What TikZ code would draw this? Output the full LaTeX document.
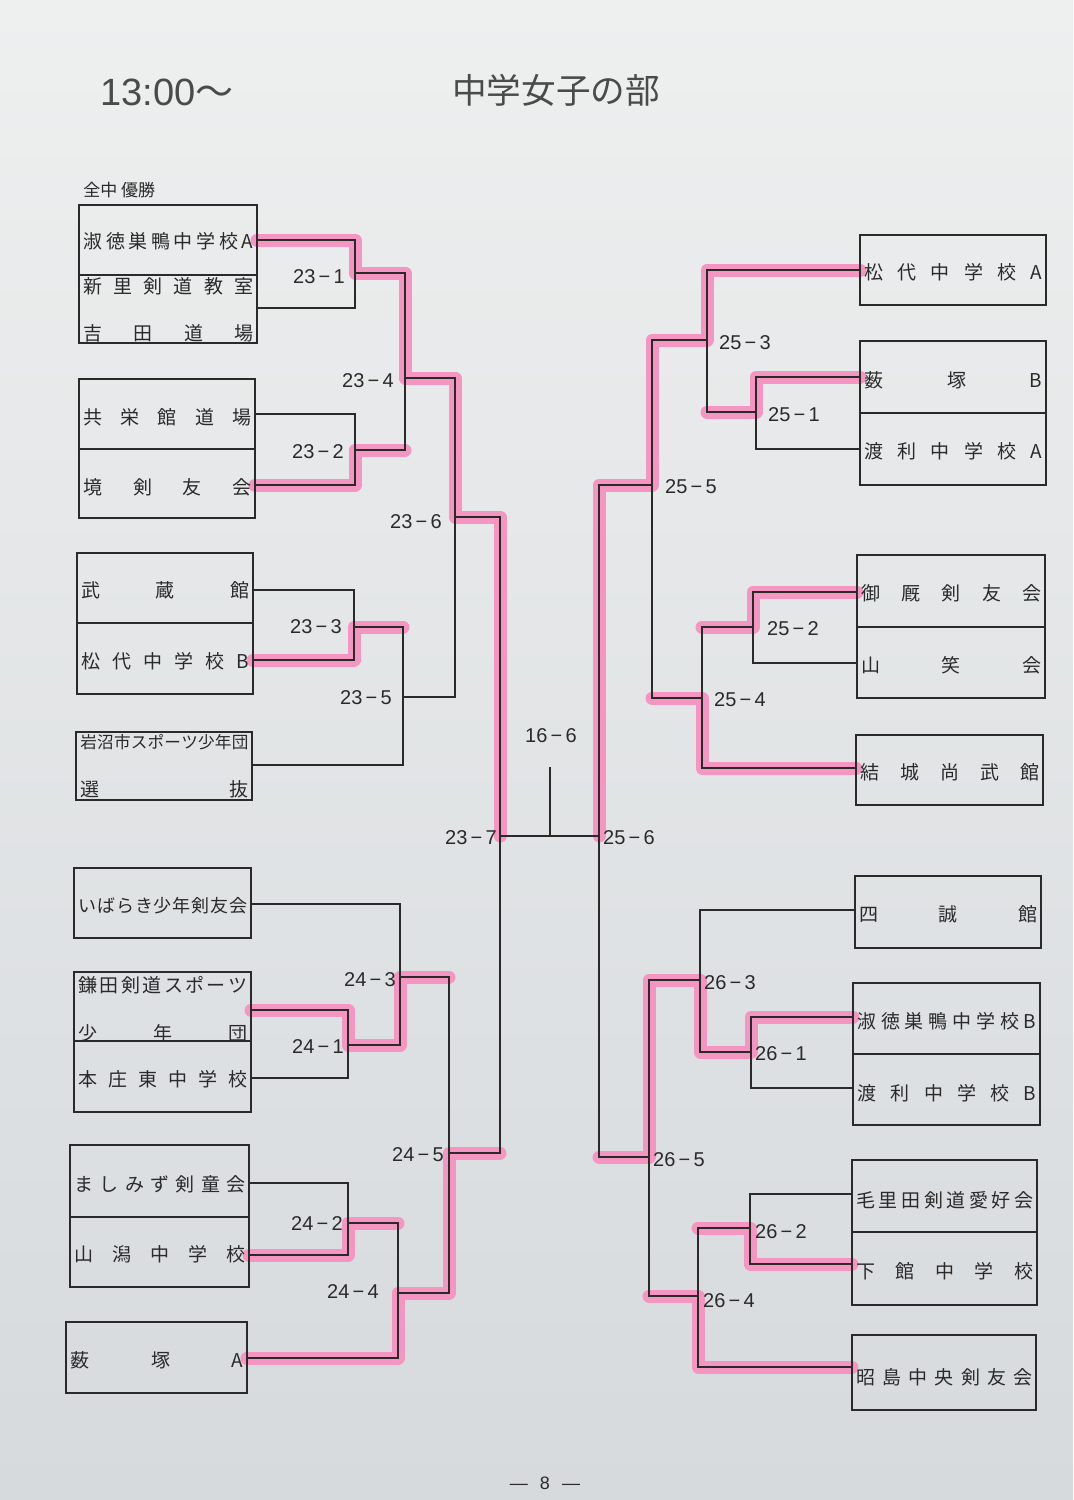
\documentclass[tikz,border=0pt]{standalone}
\usepackage{fontspec}
\setmainfont{Liberation Sans}
\newfontfamily\jp{Noto Sans CJK JP}
\usepackage{tikz}
\usetikzlibrary{calc}

\definecolor{paper}{RGB}{238,239,239}
\definecolor{papershade}{RGB}{214,218,221}
\definecolor{ink}{RGB}{42,42,42}
\definecolor{marker}{RGB}{245,150,194}

% spread the letters of a name over the whole width of its box
\makeatletter
\newcommand\spread[2]{\hbox to #1{\edef\sp@list{#2}\let\sp@sep\relax
  \expandafter\@tfor\expandafter\sp@c\expandafter:\expandafter=\sp@list\do{\sp@sep\sp@c\let\sp@sep\hfil}}}
\makeatother

\begin{document}
\begin{tikzpicture}[x=0.5pt,y=-0.5pt,
  box/.style={draw=ink,line width=1.2pt},
  wire/.style={draw=ink,line width=0.8pt},
  win/.style={draw=marker,line width=6.5pt,line cap=round,line join=round},
  team/.style={anchor=west,inner sep=0pt,text=ink,font=\jp\fontsize{9.5}{11}\selectfont},
  mnum/.style={inner sep=0pt,text=ink,font=\fontsize{10}{12}\selectfont}]
\useasboundingbox (0,0) rectangle (1073,1500);
\shade[top color=paper,bottom color=papershade] (0,0) rectangle (1073,1500);

% Title
\node[text=ink!85,font=\fontsize{19}{22}\selectfont] (time) at (167,92) {13:00{\jp～}};
\node[text=ink!85,font=\jp\fontsize{17.3}{20}\selectfont] (title) at (556,90) {中学女子の部};
\node[team,font=\jp\fontsize{8.5}{10}\selectfont] (champ) at (83,190) {全中 優勝};

% Entry points on the boxes
\coordinate (t1) at (257,240);  \coordinate (t2) at (257,308);
\coordinate (t3) at (255,414);  \coordinate (t4) at (255,485);
\coordinate (t5) at (253,590);  \coordinate (t6) at (253,660);
\coordinate (t7) at (252,765);  \coordinate (t8) at (251,904);
\coordinate (t9) at (251,1010); \coordinate (t10) at (251,1078);
\coordinate (t11) at (249,1183); \coordinate (t12) at (249,1255);
\coordinate (t13) at (247,1358);
\coordinate (s1) at (860,270);  \coordinate (s2) at (860,377);
\coordinate (s3) at (860,449);  \coordinate (s4) at (857,592);
\coordinate (s5) at (857,663);  \coordinate (s6) at (856,768);
\coordinate (s7) at (855,910);  \coordinate (s8) at (853,1017);
\coordinate (s9) at (853,1088); \coordinate (s10) at (852,1194);
\coordinate (s11) at (852,1264); \coordinate (s12) at (852,1367);

% Matches (vertical line, winner line)
\coordinate (m231) at (355,273); \coordinate (m232) at (355,450);
\coordinate (m233) at (354,627); \coordinate (m234) at (405,378);
\coordinate (m235) at (403,697); \coordinate (m236) at (455,517);
\coordinate (m237) at (500,836);
\coordinate (m241) at (348,1045); \coordinate (m242) at (348,1223);
\coordinate (m243) at (400,977);  \coordinate (m244) at (398,1293);
\coordinate (m245) at (449,1153);
\coordinate (m251) at (756,412); \coordinate (m252) at (753,627);
\coordinate (m253) at (707,340); \coordinate (m254) at (702,698);
\coordinate (m255) at (652,485); \coordinate (m256) at (599,836);
\coordinate (m261) at (751,1052); \coordinate (m262) at (750,1228);
\coordinate (m263) at (700,980);  \coordinate (m264) at (698,1296);
\coordinate (m265) at (649,1157);
\coordinate (f166) at (550,767);

% Marker pen
\draw[win] (t1) -| (m231) -| (m234) -| (m236) -| (m237);
\draw[win] (t4) -| (m232) -- (m232 -| m234);
\draw[win] (t6) -| (m233) -- (m233 -| m235);
\draw[win] (t9) -| (m241) -| (m243) -- (m243 -| m245);
\draw[win] (t12) -| (m242) -- (m242 -| m244);
\draw[win] (t13) -| (m244) -| (m245) -- (m245 -| m237);
\draw[win] (s1) -| (m253) -| (m255) -| (m256);
\draw[win] (s2) -| (m251) -- (m251 -| m253);
\draw[win] (s4) -| (m252) -- (m252 -| m254);
\draw[win] (s6) -| (m254) -- (m254 -| m255);
\draw[win] (s8) -| (m261) -| (m263) -| (m265) -- (m265 -| m256);
\draw[win] (s11) -| (m262) -- (m262 -| m264);
\draw[win] (s12) -| (m264) -- (m264 -| m265);

% Boxes
\foreach \l/\t/\r/\b in {79/205/257/343, 79/379/255/518, 77/553/253/694, 76/732/252/800,
    74/868/251/938, 74/972/251/1112, 70/1145/249/1287, 66/1322/247/1393,
    860/235/1046/305, 860/341/1046/485, 857/555/1045/698, 856/735/1043/805,
    855/876/1041/948, 853/983/1040/1125, 852/1160/1037/1305, 852/1335/1036/1410}
  \draw[box] (\l,\t) rectangle (\r,\b);
\foreach \l/\r/\y in {79/257/275, 79/255/449, 77/253/623, 74/251/1041, 70/249/1217,
    860/1046/413, 857/1045/627, 853/1040/1054, 852/1037/1232}
  \draw[box] (\l,\y) -- (\r,\y);

% Left brackets
\draw[wire] (t1) -| (m231) |- (t2);
\draw[wire] (t3) -| (m232) |- (t4);
\draw[wire] (t5) -| (m233) |- (t6);
\draw[wire] (m231) -| (m234) |- (m232);
\draw[wire] (m233) -| (m235) |- (t7);
\draw[wire] (m234) -| (m236) |- (m235);
\draw[wire] (m236) -| (m237) |- (m245);
\draw[wire] (t9) -| (m241) |- (t10);
\draw[wire] (t8) -| (m243) |- (m241);
\draw[wire] (t11) -| (m242) |- (t12);
\draw[wire] (m242) -| (m244) |- (t13);
\draw[wire] (m243) -| (m245) |- (m244);

% Right brackets
\draw[wire] (s2) -| (m251) |- (s3);
\draw[wire] (s1) -| (m253) |- (m251);
\draw[wire] (s4) -| (m252) |- (s5);
\draw[wire] (m252) -| (m254) |- (s6);
\draw[wire] (m253) -| (m255) |- (m254);
\draw[wire] (m255) -| (m256) |- (m265);
\draw[wire] (s8) -| (m261) |- (s9);
\draw[wire] (s7) -| (m263) |- (m261);
\draw[wire] (s10) -| (m262) |- (s11);
\draw[wire] (m262) -| (m264) |- (s12);
\draw[wire] (m263) -| (m265) |- (m264);

% Final
\draw[wire] (m237) -- (m256);
\draw[wire] (f166) -- (f166 |- m237);

% Match numbers
\node[mnum] (l231) at (319,277) {23\,−\,1};
\node[mnum] (l232) at (318,452) {23\,−\,2};
\node[mnum] (l233) at (316,627) {23\,−\,3};
\node[mnum] (l234) at (368,381) {23\,−\,4};
\node[mnum] (l235) at (366,698) {23\,−\,5};
\node[mnum] (l236) at (416,522) {23\,−\,6};
\node[mnum] (l237) at (471,838) {23\,−\,7};
\node[mnum] (l241) at (318,1047) {24\,−\,1};
\node[mnum] (l242) at (317,1223) {24\,−\,2};
\node[mnum] (l243) at (370,980) {24\,−\,3};
\node[mnum] (l244) at (353,1292) {24\,−\,4};
\node[mnum] (l245) at (418,1155) {24\,−\,5};
\node[mnum] (l251) at (794,415) {25\,−\,1};
\node[mnum] (l252) at (793,629) {25\,−\,2};
\node[mnum] (l253) at (745,343) {25\,−\,3};
\node[mnum] (l254) at (740,700) {25\,−\,4};
\node[mnum] (l255) at (691,487) {25\,−\,5};
\node[mnum] (l256) at (629,838) {25\,−\,6};
\node[mnum] (l261) at (781,1054) {26\,−\,1};
\node[mnum] (l262) at (781,1232) {26\,−\,2};
\node[mnum] (l263) at (730,983) {26\,−\,3};
\node[mnum] (l264) at (729,1301) {26\,−\,4};
\node[mnum] (l265) at (679,1160) {26\,−\,5};
\node[mnum] (l166) at (551,736) {16\,−\,6};

% Left teams
\node[team] (n1) at (83,241) {\spread{85pt}{淑徳巣鴨中学校A}};
\node[team] (n2) at (83,286) {\spread{85pt}{新里剣道教室}};
\node[team] (n2b) at (83,333) {\spread{85pt}{吉田道場}};
\node[team] (n3) at (83,417) {\spread{84pt}{共栄館道場}};
\node[team] (n4) at (83,487) {\spread{84pt}{境剣友会}};
\node[team] (n5) at (81,590) {\spread{84pt}{武蔵館}};
\node[team] (n6) at (81,661) {\spread{84pt}{松代中学校B}};
\node[team,font=\jp\fontsize{8.3}{10}\selectfont] (n7) at (80,742) {\spread{84pt}{岩沼市スポーツ少年団}};
\node[team] (n7b) at (80,789) {\spread{84pt}{選抜}};
\node[team,font=\jp\fontsize{9}{10}\selectfont] (n8) at (78,906) {\spread{84.5pt}{いばらき少年剣友会}};
\node[team] (n9) at (78,985) {\spread{84.5pt}{鎌田剣道スポーツ}};
\node[team] (n9b) at (78,1033) {\spread{84.5pt}{少年団}};
\node[team] (n10) at (78,1079) {\spread{84.5pt}{本庄東中学校}};
\node[team] (n11) at (74,1184) {\spread{85.5pt}{ましみず剣童会}};
\node[team] (n12) at (74,1254) {\spread{85.5pt}{山潟中学校}};
\node[team] (n13) at (70,1360) {\spread{86.5pt}{薮塚A}};

% Right teams
\node[team] (r1) at (864,272) {\spread{89pt}{松代中学校A}};
\node[team] (r2) at (864,380) {\spread{89pt}{薮塚B}};
\node[team] (r3) at (864,451) {\spread{89pt}{渡利中学校A}};
\node[team] (r4) at (861,593) {\spread{90pt}{御厩剣友会}};
\node[team] (r5) at (861,665) {\spread{90pt}{山笑会}};
\node[team] (r6) at (860,772) {\spread{89.5pt}{結城尚武館}};
\node[team] (r7) at (859,914) {\spread{89pt}{四誠館}};
\node[team] (r8) at (857,1021) {\spread{89.5pt}{淑徳巣鴨中学校B}};
\node[team] (r9) at (857,1093) {\spread{89.5pt}{渡利中学校B}};
\node[team] (r10) at (856,1200) {\spread{88.5pt}{毛里田剣道愛好会}};
\node[team] (r11) at (856,1271) {\spread{88.5pt}{下館中学校}};
\node[team] (r12) at (856,1377) {\spread{88pt}{昭島中央剣友会}};

% Page number
\node[text=ink,font=\fontsize{9}{10}\selectfont] (page) at (545,1483) {—\hspace{6pt}8\hspace{6pt}—};
\end{tikzpicture}
\end{document}
